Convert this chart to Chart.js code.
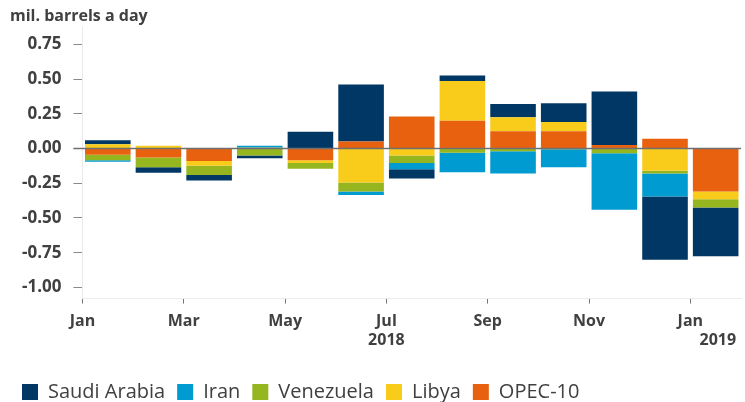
<!DOCTYPE html>
<html>
<head>
<meta charset="utf-8">
<script src="https://cdn.jsdelivr.net/npm/chart.js@4.4.1/dist/chart.umd.min.js"></script>
<style>
  html, body { margin: 0; padding: 0; background: #fff; }
  #wrap { width: 745px; height: 402px; }
</style>
</head>
<body>
<div id="wrap"><canvas id="chart"></canvas></div>
<script>
// months Jan 2018 .. Jan 2019, change vs previous month (mil. barrels a day)
const months = ['Jan', 'Feb', 'Mar', 'Apr', 'May', 'Jun', 'Jul', 'Aug', 'Sep', 'Oct', 'Nov', 'Dec', 'Jan'];
const tickLabels = [['Jan'], ['Mar'], ['May'], ['Jul', '2018'], ['Sep'], ['Nov'], ['Jan', '\u2007\u2007\u2007\u2007\u2007\u20072019']];
const yTickValues = [-1, -0.75, -0.5, -0.25, 0, 0.25, 0.5, 0.75];

const saudiArabia = [0.03, -0.04, -0.04, -0.02, 0.12, 0.41, -0.065, 0.04, 0.095, 0.135, 0.385, -0.455, -0.35];
const iran = [-0.01, 0, 0, 0.015, 0, -0.025, -0.045, -0.14, -0.16, -0.13, -0.405, -0.165, 0];
const venezuela = [-0.04, -0.07, -0.065, -0.05, -0.04, -0.065, -0.055, -0.03, -0.02, -0.005, -0.035, -0.02, -0.06];
const libya = [0.03, 0.02, -0.035, 0.005, -0.02, -0.245, -0.05, 0.285, 0.1, 0.065, 0, -0.16, -0.055];
const opec10 = [-0.045, -0.065, -0.09, 0, -0.085, 0.05, 0.23, 0.2, 0.125, 0.125, 0.025, 0.07, -0.31];

const FONT = "'Open Sans', 'Noto Sans', sans-serif";
const textColor = '#404040';

// bars sit between month ticks, so put them at i + 0.5 on a linear axis
function toPoints(arr) {
    return arr.map((v, i) => ({ x: i + 0.5, y: v }));
}

// zero line goes over the bars in the original
const zeroLine = {
    id: 'zeroLine',
    afterDatasetsDraw(chart) {
        const { ctx, chartArea, scales } = chart;
        const y = scales.y.getPixelForValue(0);
        ctx.save();
        ctx.strokeStyle = '#6f6f6f';
        ctx.lineWidth = 1.5;
        ctx.beginPath();
        ctx.moveTo(chartArea.left - 9, y);
        ctx.lineTo(chartArea.right, y);
        ctx.stroke();
        ctx.restore();
    }
};

// datasets listed from the zero line outward (stack order), legend reversed
const datasets = [
    { label: 'OPEC-10', data: toPoints(opec10), backgroundColor: '#e8610f' },
    { label: 'Libya', data: toPoints(libya), backgroundColor: '#f9cb1a' },
    { label: 'Venezuela', data: toPoints(venezuela), backgroundColor: '#95b61f' },
    { label: 'Iran', data: toPoints(iran), backgroundColor: '#009bd0' },
    { label: 'Saudi Arabia', data: toPoints(saudiArabia), backgroundColor: '#003764' }
];

new Chart(document.getElementById('chart'), {
    type: 'bar',
    data: { datasets: datasets },
    plugins: [zeroLine],
    options: {
        responsive: true,
        maintainAspectRatio: false,
        animation: false,
        barPercentage: 0.9,
        categoryPercentage: 1,
        // legend sits lower in the original, extra room goes to the x axis
        layout: { padding: { left: 10, right: 4, top: 0, bottom: -10 } },
        plugins: {
            title: {
                display: true,
                text: 'mil. barrels a day',
                align: 'start',
                color: textColor,
                font: { family: FONT, size: 16, weight: 'bold' },
                padding: { top: 7, bottom: 0 }
            },
            legend: {
                position: 'bottom',
                align: 'start',
                reverse: true,
                labels: {
                    color: textColor,
                    font: { family: FONT, size: 20 },
                    boxWidth: 16,
                    boxHeight: 16,
                    padding: 12
                }
            },
            tooltip: { enabled: false }
        },
        scales: {
            x: {
                type: 'linear',
                stacked: true,
                offset: false,
                min: 0,
                max: 13,
                border: { color: '#ececec' },
                grid: { offset: false, drawOnChartArea: false, tickLength: 5, tickColor: '#777', tickWidth: 1 },
                afterFit: (scale) => { scale.height += 12; },
                ticks: {
                    stepSize: 2,
                    maxRotation: 0,
                    autoSkip: false,
                    color: textColor,
                    font: { family: FONT, size: 16, weight: 'bold' },
                    padding: 8,
                    callback: (v) => tickLabels[v / 2]
                }
            },
            y: {
                stacked: true,
                min: -1.08,
                max: 0.88,
                border: { color: '#ececec' },
                grid: { drawOnChartArea: false, tickLength: 9, tickColor: '#8a8a8a', tickWidth: 1 },
                afterBuildTicks: (scale) => {
                    scale.ticks = yTickValues.map(v => ({ value: v }));
                },
                ticks: {
                    color: textColor,
                    font: { family: FONT, size: 17, weight: 'bold' },
                    padding: 12,
                    callback: (v) => v.toFixed(2)
                }
            }
        }
    }
});
</script>
</body>
</html>
